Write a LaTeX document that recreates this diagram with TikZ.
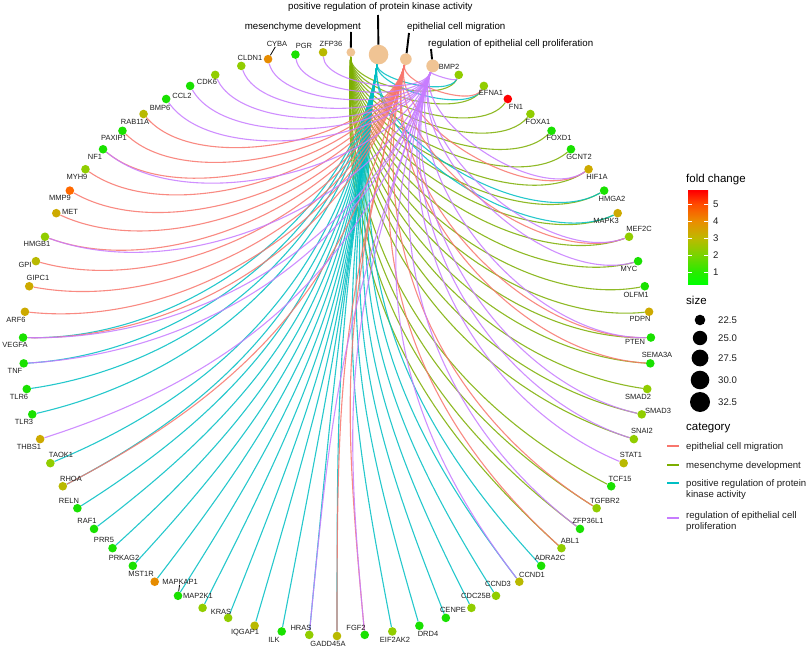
\documentclass[tikz,border=0pt]{standalone}
\usepackage{fontspec}
\setmainfont{Liberation Sans}
\usetikzlibrary{calc}
\pgfdeclarelayer{bg}
\pgfsetlayers{bg,main}
\definecolor{cD}{HTML}{7CAE00}
\definecolor{cK}{HTML}{00BFC4}
\definecolor{cM}{HTML}{F8766D}
\definecolor{cP}{HTML}{C77CFF}
\definecolor{catfill}{RGB}{240,196,148}
\definecolor{fA}{RGB}{25,225,0}
\definecolor{fB}{RGB}{145,205,0}
\definecolor{fC}{RGB}{185,185,0}
\definecolor{fD}{RGB}{205,170,0}
\definecolor{fE}{RGB}{230,140,0}
\definecolor{fF}{RGB}{255,105,0}
\definecolor{fG}{RGB}{255,0,0}
\definecolor{labtext}{RGB}{30,30,30}
\pgfdeclareverticalshading{fcbar}{100bp}{color(0bp)=(fA); color(25bp)=(rgb,255:red,0;green,255;blue,0); color(31.4bp)=(rgb,255:red,40;green,235;blue,0); color(40.6bp)=(rgb,255:red,120;green,212;blue,0); color(49.7bp)=(rgb,255:red,190;green,185;blue,0); color(58.9bp)=(rgb,255:red,235;green,140;blue,0); color(68bp)=(rgb,255:red,255;green,75;blue,0); color(75bp)=(rgb,255:red,255;green,0;blue,0); color(100bp)=(rgb,255:red,255;green,0;blue,0)}
\def\ciD{0}\def\ciK{1}\def\ciM{2}\def\ciP{3}
\begin{document}
\begin{tikzpicture}[x=1pt,y=-1pt,
  gene/.style={circle,inner sep=0pt,minimum size=8.6pt,draw=none},
  catnode/.style={circle,inner sep=0pt,fill=catfill,draw=none},
  glab/.style={font=\fontsize{7.5}{9}\selectfont,text=labtext,inner sep=0pt},
  clab/.style={font=\fontsize{9.7}{11}\selectfont,text=black,inner sep=0pt},
  ltitle/.style={font=\fontsize{11.5}{13}\selectfont,text=black,inner sep=0pt,anchor=west},
  ltext/.style={font=\fontsize{9.6}{11.5}\selectfont,text=labtext,inner sep=0pt,anchor=west,align=left},
  lead/.style={draw=black,line width=1.9pt},
  leadthin/.style={draw=black,line width=0.8pt},
  eD/.style={draw=cD,line width=1.1pt,opacity=0.85},
  eK/.style={draw=cK,line width=1.1pt,opacity=0.85},
  eM/.style={draw=cM,line width=1.1pt,opacity=0.85},
  eP/.style={draw=cP,line width=1.1pt,opacity=0.85},
  keyline/.style={line width=1.1pt}]
\useasboundingbox (0,0) rectangle (809,650);
\coordinate (O) at (337,344);
% category nodes
\node[catnode,minimum size=8.8pt] (catD) at ({337+314*cos(87.465)},{344-292*sin(87.465)}) {};
\node[catnode,minimum size=19.6pt] (catK) at ({337+314*cos(87.465-5.0704)},{344-292*sin(87.465-5.0704)}) {};
\node[catnode,minimum size=11.6pt] (catM) at ({337+314*cos(87.465-2*5.0704)},{344-292*sin(87.465-2*5.0704)}) {};
\node[catnode,minimum size=12.8pt] (catP) at ({337+314*cos(87.465-3*5.0704)},{344-292*sin(87.465-3*5.0704)}) {};
% category labels
\node[clab,anchor=east] (tDl) at (361,27) {mesenchyme development};
\node[clab,anchor=west] (tKl) at (288,7) {positive regulation of protein kinase activity};
\node[clab,anchor=west] (tMl) at (407,27) {epithelial cell migration};
\node[clab,anchor=west] (tPl) at (428,44) {regulation of epithelial cell proliferation};
\coordinate (tD) at (351,32);
\coordinate (tK) at (378,15);
\coordinate (tM) at (409,33);
\coordinate (tP) at (431,49);
\draw[lead] (catD) -- (tD);
\draw[lead] (catK) -- (tK);
\draw[lead] (catM) -- (tM);
\draw[lead] (catP) -- (tP);
% genes
\def\genelist{BMP2/4/B/449/67/{D,K,P},EFNA1/5/B/491/93/{M,K,D},FN1/6/G/516/107/{D},FOXA1/7/B/538/122/{D},FOXD1/8/A/559/138/{D},GCNT2/9/A/579/157/{D},HIF1A/10/D/597/177/{M,D,P},HMGA2/11/A/612/199/{K,D},MAPK3/12/D/606/221/{K,D},MEF2C/13/B/639/229/{D,M,P},MYC/14/A/629/269/{D,P},OLFM1/15/A/636/295/{D},PDPN/16/D/640/319/{D},PTEN/17/A/635/342/{D,M,P},SEMA3A/18/A/657/355/{D,M},SMAD2/19/B/638/397/{D},SMAD3/20/B/658/411/{D,P},SNAI2/21/B/642/431/{D,P},STAT1/22/C/631/455/{P},TCF15/23/A/620/479/{D},TGFBR2/24/B/605/501/{D,M},ZFP36L1/25/A/588/521/{D,P},ABL1/26/B/570/541/{D,M},ADRA2C/27/A/550/558/{K},CCND1/28/C/532/575/{K,P},CCND3/29/B/498/584/{K},CDC25B/30/B/476/596/{K},CENPE/31/A/453/610/{K},DRD4/32/A/428/634/{K},EIF2AK2/33/B/395/640/{K},FGF2/34/A/356/628/{P,M},GADD45A/35/C/328/644/{K,M},HRAS/36/B/301/628/{K,P},ILK/37/A/274/640/{K},IQGAP1/38/C/245/633/{K},KRAS/39/B/221/612/{K},MAP2K1/40/B/198/596/{K},MAPKAP1/41/A/180/582/{K},MST1R/42/E/141/574/{K},PRKAG2/43/A/124/558/{K},PRR5/44/A/104/540/{K},RAF1/45/A/87/521/{K},RELN/46/A/69/501/{K},RHOA/47/C/71/479/{K,M},TAOK1/48/B/61/455/{K},THBS1/49/D/29/447/{P},TLR3/50/A/24/422/{K},TLR6/51/A/19/397/{K},TNF/52/A/15/371/{K,P},VEGFA/53/A/15/345/{K,M,P},ARF6/54/D/16/320/{M},GIPC1/55/D/38/278/{M},GPI/56/C/25/265/{M},HMGB1/57/B/37/244/{M,P},MET/58/D/70/212/{M},MMP9/59/F/60/198/{M},MYH9/60/B/77/177/{M},NF1/61/A/95/157/{M,P},PAXIP1/62/A/114/138/{M},RAB11A/63/C/135/122/{M},BMP6/64/A/160/108/{P},CCL2/65/A/182/96/{P},CDK6/66/B/207/82/{P},CLDN1/67/B/250/58/{P},CYBA/68/E/277/44/{P},PGR/69/A/304/46/{P},ZFP36/70/C/331/44/{P}}
\foreach \g/\k/\c/\lx/\ly/\cs in \genelist {
  \node[gene,fill=f\c] (\g) at ({337+314*cos(87.465-5.0704*\k)},{344-292*sin(87.465-5.0704*\k)}) {};
  \node[glab] (l\g) at (\lx,\ly) {\g};
}
\draw[leadthin] (CYBA) -- (lCYBA);
\draw[leadthin] (MAPKAP1) -- (lMAPKAP1);
% edges, drawn category by category
\begin{pgfonlayer}{bg}
\fill[white] (0,0) rectangle (809,650);
\foreach \cat in {D,K,M,P} {
  \foreach \g/\k/\c/\lx/\ly/\cs in \genelist {
    \foreach \cc in \cs {
      \edef\xa{\cc}\edef\xb{\cat}
      \ifx\xa\xb
        \edef\ci{\csname ci\cc\endcsname}
        \pgfmathtruncatemacro\dd{abs(\k-\ci)}
        \pgfmathsetmacro\ff{1-min(\dd,71-\dd)/35.5}
        \draw[e\cc] (cat\cc) .. controls ($(O)!\ff!(cat\cc)$) and ($(O)!\ff!(\g)$) .. (\g);
      \fi
    }
  }
}
\end{pgfonlayer}
% legend: fold change
\node[ltitle] (lgfc) at (686,180) {fold change};
\shade[shading=fcbar] (688,191) rectangle (708,284);
\foreach \v in {1,2,3,4,5} {
  \pgfmathsetmacro\yy{284-(\v-0.3)*17}
  \draw[white,line width=0.8pt] (688,\yy) -- (692,\yy);
  \draw[white,line width=0.8pt] (704,\yy) -- (708,\yy);
  \node[ltext] (fc\v) at (713,\yy) {\v};
}
% legend: size
\node[ltitle] (lgsz) at (686,300) {size};
\foreach \s/\r/\yy in {22.5/5.3/320,25.0/7.2/338,27.5/8.4/358,30.0/9.3/380,32.5/10/402} {
  \fill[black] (700,\yy) circle[radius=\r];
  \node[ltext] (sz\s) at (718,\yy) {\s};
}
% legend: category
\node[ltitle] (lgcat) at (686,428) {category};
\draw[keyline,cM] (667,446) -- (679,446);
\draw[keyline,cD] (667,465) -- (679,465);
\draw[keyline,cK] (667,483) -- (679,483);
\draw[keyline,cP] (667,518) -- (679,518);
\node[ltext] (k1) at (686,447) {epithelial cell migration};
\node[ltext] (k2) at (686,466) {mesenchyme development};
\node[ltext,anchor=north west] (k3) at (686,479) {positive regulation of protein\\kinase activity};
\node[ltext,anchor=north west] (k4) at (686,511) {regulation of epithelial cell\\proliferation};
\end{tikzpicture}
\end{document}
